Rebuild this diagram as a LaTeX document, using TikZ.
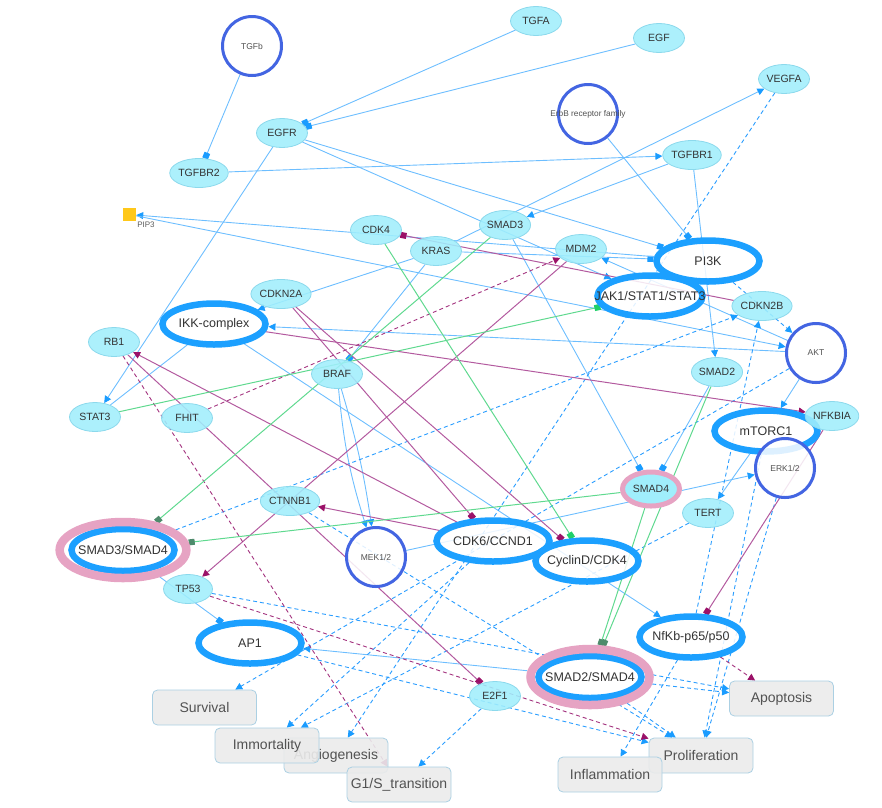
\documentclass[tikz,border=0pt]{standalone}
\usepackage{fontspec}
\setmainfont{Liberation Sans}
\usetikzlibrary{shapes.geometric,arrows.meta,backgrounds}
\definecolor{cy}{HTML}{A0EEFC}
\definecolor{cyb}{HTML}{8CD9EC}
\definecolor{bb}{HTML}{1CA0FF}
\definecolor{rb}{HTML}{4365E2}
\definecolor{pk}{HTML}{E6A3C3}
\definecolor{eb}{HTML}{6DBEFF}
\definecolor{tb}{HTML}{1A9CFF}
\definecolor{ed}{HTML}{2A9DFF}
\definecolor{ep}{HTML}{B35A9F}
\definecolor{tp}{HTML}{9B1168}
\definecolor{epd}{HTML}{A3337F}
\definecolor{eg}{HTML}{5FD98F}
\definecolor{tg}{HTML}{20D06A}
\definecolor{tgd}{HTML}{4E8B6C}
\definecolor{bxf}{HTML}{EBEBEB}
\definecolor{bxd}{HTML}{ABD0E3}
\definecolor{txt}{HTML}{333333}
\definecolor{gold}{HTML}{FFC81A}
\newcommand{\zt}[1]{\makebox[0pt]{#1}}
\tikzset{
  sm/.style={ellipse, draw=cyb, line width=0.8pt, fill=cy, fill opacity=0.88, text opacity=1,
    minimum width=51pt, minimum height=29pt, inner sep=0pt, font=\fontsize{10.5}{12}\selectfont, text=txt},
  big/.style={ellipse, draw=bb, line width=6.5pt, fill=white, fill opacity=0.85, text opacity=1,
    minimum width=103pt, minimum height=41pt, inner sep=0pt, font=\fontsize{12.5}{14}\selectfont, text=txt},
  circ/.style={circle, draw=rb, line width=3pt, fill=white, fill opacity=0.85, text opacity=1,
    minimum size=59pt, inner sep=0pt, font=\fontsize{8.5}{10}\selectfont, text=txt!85},
  pinkbig/.style={ellipse, draw=pk, line width=8.5pt, fill=white, minimum width=119pt, minimum height=56pt,
    inner sep=0pt, font=\fontsize{12.5}{14}\selectfont, text=txt,
    path picture={\draw[bb, line width=6.5pt] (path picture bounding box.center) ellipse [x radius=51.5pt, y radius=21pt];}},
  pinksm/.style={ellipse, draw=pk, line width=5pt, fill=cy, minimum width=57pt, minimum height=34pt,
    inner sep=0pt, font=\fontsize{10.5}{12}\selectfont, text=txt},
  outbox/.style={rectangle, rounded corners=5pt, draw=bxd, line width=0.8pt, fill=bxf, fill opacity=0.9, text opacity=1,
    minimum width=104pt, minimum height=35pt, inner sep=0pt, font=\fontsize{14}{16}\selectfont, text=black!68},
  bl/.style={draw=eb, line width=0.9pt},
  bd/.style={draw=ed, line width=0.9pt, dash pattern=on 4pt off 3pt},
  pu/.style={draw=ep, line width=1pt},
  pd/.style={draw=epd, line width=0.9pt, dash pattern=on 4pt off 3pt},
  gr/.style={draw=eg, line width=1pt},
  bt/.style={-{Triangle[length=7pt,width=7pt,color=tb]}},
  bs/.style={-{Square[length=6pt,width=6pt,color=tb]}},
  ptt/.style={-{Triangle[length=7pt,width=7pt,color=tp]}},
  pss/.style={-{Square[length=6pt,width=6pt,color=tp]}},
  gs/.style={-{Square[length=6pt,width=6pt,color=tg]}},
  gds/.style={-{Square[length=6pt,width=6pt,color=tgd]}}
}
\begin{document}
\begin{tikzpicture}[x=1pt,y=-1pt]
\useasboundingbox (0,0) rectangle (882,807);
% nodes
\node[circ] (tgfb) at (252,46) {TGFb};
\node[sm] (tgfa) at (536,21) {TGFA};
\node[sm] (egf) at (659,38) {EGF};
\node[sm] (vegfa) at (784,79) {VEGFA};
\node[circ, font=\fontsize{8.3}{10}\selectfont] (erbb) at (588,114) {\zt{ErbB receptor family}};
\node[sm] (egfr) at (282,133) {EGFR};
\node[sm] (tgfbr2) at (199,173) {TGFBR2};
\node[sm] (tgfbr1) at (692,155) {TGFBR1};
\node[rectangle, fill=gold, minimum size=13pt, inner sep=0pt] (pip3) at (129.5,214.5) {};
\node[font=\fontsize{8}{9}\selectfont, text=txt!80, inner sep=0pt] (pip3lbl) at (146,225) {PIP3};
\node[sm] (cdk4) at (376,230) {CDK4};
\node[sm] (smad3) at (505,225) {SMAD3};
\node[sm] (kras) at (436,251) {KRAS};
\node[sm] (mdm2) at (581,249) {MDM2};
\node[big] (pi3k) at (708,261) {PI3K};
\node[big, minimum width=105pt] (jak) at (650,296) {\zt{JAK1/STAT1/STAT3}};
\node[sm] (cdkn2b) at (762,306) {CDKN2B};
\node[circ] (akt) at (816,353) {AKT};
\node[sm] (cdkn2a) at (281,294) {CDKN2A};
\node[big] (ikk) at (214,324) {IKK-complex};
\node[sm] (rb1) at (114,342) {RB1};
\node[sm] (stat3) at (95,417) {STAT3};
\node[sm] (fhit) at (187,418) {FHIT};
\node[sm] (braf) at (337,374) {BRAF};
\node[sm] (smad2) at (717,372) {SMAD2};
\node[big] (mtorc) at (766,431) {mTORC1};
\node[sm] (nfkbia) at (832,416) {NFKBIA};
\node[circ] (erk) at (785,468) {ERK1/2};
\node[pinksm] (smad4) at (651,489) {SMAD4};
\node[sm] (tert) at (708,513) {TERT};
\node[sm] (ctnnb1) at (290,501) {CTNNB1};
\node[pinkbig] (s3s4) at (123,550) {SMAD3/SMAD4};
\node[circ] (mek) at (376,557) {MEK1/2};
\node[big] (cdk6) at (493,541) {CDK6/CCND1};
\node[big] (cycd) at (587,561) {\zt{CyclinD/CDK4}};
\node[sm, minimum width=49pt] (tp53) at (188,589) {TP53};
\node[big] (ap1) at (250,643) {AP1};
\node[big] (nfkb) at (691,637) {\zt{NfKb-p65/p50}};
\node[pinkbig] (s2s4) at (590,677) {\zt{SMAD2/SMAD4}};
\node[sm] (e2f1) at (495,696) {E2F1};
\node[outbox] (surv) at (204.5,707.5) {Survival};
\node[outbox] (angio) at (336,755.5) {Angiogenesis};
\node[outbox] (immo) at (267,745.5) {Immortality};
\node[outbox] (gone) at (399,784.5) {G1/S\_transition};
\node[outbox] (apop) at (781.5,698.5) {Apoptosis};
\node[outbox] (prol) at (701,755.5) {Proliferation};
\node[outbox] (infl) at (610,774.5) {Inflammation};
% edges
\begin{pgfonlayer}{background}
% blue solid
\draw[bl,bs] (tgfb) -- (tgfbr2);
\draw[bl,bs] (tgfa) -- (egfr);
\draw[bl,bs] (egf) -- (egfr);
\draw[bl,bt] (tgfbr2) -- (tgfbr1);
\draw[bl,bt] (egfr) -- (stat3);
\draw[bl,bs] (egfr) -- (pi3k);
\draw[bl,bt] (egfr) -- (jak);
\draw[bl,bs] (erbb) -- (pi3k);
\draw[bl,bt] (tgfbr1) -- (smad2);
\draw[bl,bt] (tgfbr1) -- (smad3);
\draw[bl,bt] (kras) -- (vegfa);
\draw[bl,bt] (kras) -- (ikk);
\draw[bl,bs] (kras) -- (braf);
\draw[bl,bs] (kras) -- (pi3k);
\draw[bl,bt] (pi3k) -- (pip3);
\draw[bl,bt] (pip3) -- (akt);
\draw[bl,bt] (akt) -- (ikk);
\draw[bl,bt] (akt) -- (mdm2);
\draw[bl,bt] (akt) -- (mtorc);
\draw[bl,bt] (mtorc) -- (tert);
\draw[bl,bs] (smad3) -- (smad4);
\draw[bl,bs] (smad2) -- (smad4);
\draw[bl,bt] (braf) to[bend right=6] (mek);
\draw[bl,bt] (braf) to[bend left=4] (mek);
\draw[bl,bt] (mek) -- (erk);
\draw[bl,bt] (ikk) -- (nfkb);
\draw[bl] (ikk) -- (stat3);
\draw[bl,bs] (s3s4) -- (ap1);
\draw[bl,bt] (s2s4) -- (ap1);
% blue dashed
\draw[bd,bt] (vegfa) -- (angio);
\draw[bd,bt] (pi3k) -- (akt);
\draw[bd,bt] (s3s4) -- (cdkn2b);
\draw[bd,bt] (nfkb) -- (cdkn2b);
\draw[bd,bt] (akt) -- (surv);
\draw[bd,bt] (tert) -- (immo);
\draw[bd,bt] (cdk6) -- (immo);
\draw[bd,bt] (mtorc) -- (prol);
\draw[bd,bt] (erk) -- (prol);
\draw[bd,bt] (nfkb) -- (infl);
\draw[bd,bt] (s2s4) -- (apop);
\draw[bd,bt] (s2s4) -- (prol);
\draw[bd,bt] (tp53) -- (apop);
\draw[bd,bt] (ap1) -- (prol);
\draw[bd,bt] (e2f1) -- (gone);
\draw[bd,bt] (ctnnb1) -- (prol);
% purple solid
\draw[pu,pss] (cdkn2b) -- (cdk4);
\draw[pu,ptt] (ikk) -- (nfkbia);
\draw[pu,ptt] (cdk6) -- (rb1);
\draw[pu,pss] (rb1) -- (e2f1);
\draw[pu,ptt] (cdk6) -- (ctnnb1);
\draw[pu,ptt] (mdm2) -- (tp53);
\draw[pu,pss] (cdkn2a) -- (cdk6);
\draw[pu,pss] (cdkn2a) -- (cycd);
\draw[pu,pss] (nfkbia) -- (nfkb);
% purple dashed
\draw[pd,ptt] (fhit) -- (mdm2);
\draw[pd,ptt] (rb1) -- (gone);
\draw[pd,ptt] (tp53) -- (prol);
\draw[pd,ptt] (nfkb) -- (apop);
% green
\draw[gr,gs] (cdk4) -- (cycd);
\draw[gr,gs] (stat3) -- (jak);
\draw[gr,gds] (smad3) -- (s3s4);
\draw[gr,gds] (smad4) -- (s3s4);
\draw[gr,gds] (smad2) -- (s2s4);
\draw[gr,gds] (smad4) -- (s2s4);
\end{pgfonlayer}
\end{tikzpicture}
\end{document}
